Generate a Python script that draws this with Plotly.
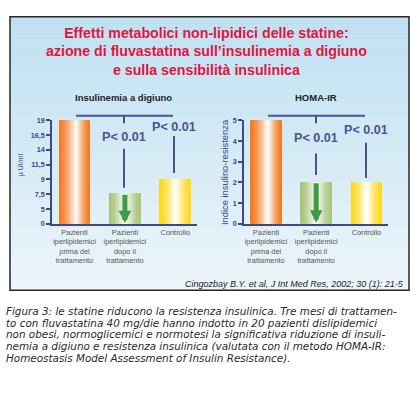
import plotly.graph_objects as go
import numpy as np

# ---------------- data ----------------
categories = [
    "Pazienti<br>iperlipidemici<br>prima del<br>trattamento",
    "Pazienti<br>iperlipidemici<br>dopo il<br>trattamento",
    "Controllo",
]
insulin_values = [19.3, 7.6, 9.1]          # µUI/ml
insulin_ticks = [0, 5, 7.5, 9, 11.5, 14, 16.5, 19]
insulin_tick_labels = ["0", "5", "7,5", "9", "11,5", "14", "16,5", "19"]
homa_values = [5.1, 2.03, 2.03]            # indice HOMA-IR
homa_ticks = [0, 1, 2, 3, 4, 5]
homa_tick_labels = ["0", "1", "2", "3", "4", "5"]
p_labels = ["P< 0.01", "P< 0.01"]

W, H = 415, 395


def px(x):
    return x / W


def py(y):
    return (H - y) / H


def insulin_scale(v):
    """The original axis has evenly spaced ticks with uneven labels."""
    idx = np.arange(len(insulin_ticks))
    v = np.asarray(v, dtype=float)
    out = np.interp(v, insulin_ticks, idx)
    top = v > insulin_ticks[-1]
    out[top] = idx[-1] + (v[top] - insulin_ticks[-1]) / (insulin_ticks[-1] - insulin_ticks[-2])
    return out


def hex2rgb(h):
    h = h.lstrip("#")
    return np.array([int(h[i:i + 2], 16) for i in (0, 2, 4)], dtype=float)


def blend(c, t):
    a = hex2rgb(c)
    b = np.array([255, 255, 255.0])
    r = a * (1 - t) + b * t
    return "rgb(%d,%d,%d)" % tuple(np.round(r))


edge_colors = ["#f47a22", "#a8c47c", "#ffd81c"]
highlight_pos = [0.56, 0.5, 0.5]
BW = 0.63
N = 14

fig = go.Figure()


def add_bars(xs, ys, xa, ya):
    for i in range(N):
        f = 1 - i / N
        t = (i / (N - 1)) ** 1.4 * 0.97
        fig.add_trace(go.Bar(
            x=xs, y=ys,
            width=[f * BW] * len(xs),
            offset=[-BW / 2 + (1 - f) * c * BW for c in highlight_pos],
            marker=dict(color=[blend(c, t) for c in edge_colors], line=dict(width=0)),
            xaxis=xa, yaxis=ya, showlegend=False, hoverinfo="skip",
            cliponaxis=False,
        ))


xs = [0, 1, 2]
add_bars(xs, insulin_scale(insulin_values), "x", "y")
add_bars(xs, homa_values, "x2", "y2")

# ---------------- background panel ----------------
shapes = []
top_px, bot_px = 13, 293
nb = 70
c_top = hex2rgb("#bee0f1")
c_bot = hex2rgb("#ecf5fa")
for k in range(nb):
    y0 = top_px + (bot_px - top_px) * k / nb
    y1 = top_px + (bot_px - top_px) * (k + 1) / nb
    t = k / (nb - 1)
    col = c_top * (1 - t) + c_bot * t
    shapes.append(dict(type="rect", xref="paper", yref="paper",
                       x0=px(10), x1=px(409), y0=py(y1 + 0.5), y1=py(y0),
                       fillcolor="rgb(%d,%d,%d)" % tuple(np.round(col)),
                       line=dict(width=0), layer="below"))
shapes.append(dict(type="rect", xref="paper", yref="paper",
                   x0=px(10), x1=px(409), y0=py(bot_px), y1=py(top_px),
                   line=dict(color="#262626", width=1.5), layer="above"))

LC = "#4a5390"
# brackets (pixel layout positions)
def seg(x0, y0, x1, y1):
    shapes.append(dict(type="line", xref="paper", yref="paper",
                       x0=px(x0), x1=px(x1), y0=py(y0), y1=py(y1),
                       line=dict(color=LC, width=2)))

# left chart
seg(76, 114.3, 173, 114.3)
seg(124, 114.3, 124, 122)
seg(124, 148, 124, 188)
seg(174, 135, 174, 173)
# right chart
seg(268, 114.3, 365, 114.3)
seg(316, 114.3, 316, 122)
seg(316, 153, 316, 175)
seg(366, 142, 366, 178)

annotations = []
ff = "Liberation Sans, Arial, sans-serif"

annotations.append(dict(
    text="Effetti metabolici non-lipidici delle statine:<br>azione di fluvastatina sull\u2019insulinemia a digiuno<br>e sulla sensibilità insulinica",
    x=px(206), y=py(49), xref="paper", yref="paper", showarrow=False,
    font=dict(family=ff, size=14.2, color="#e0163e", weight="bold"),
    xanchor="center", yanchor="middle", align="center"))

annotations.append(dict(text="Insulinemia a digiuno", x=px(123), y=py(96), xref="paper", yref="paper",
                        showarrow=False, font=dict(family=ff, size=9.5, color="#222", weight="bold"),
                        xanchor="center", yanchor="middle"))
annotations.append(dict(text="HOMA-IR", x=px(316), y=py(96), xref="paper", yref="paper",
                        showarrow=False, font=dict(family=ff, size=9.5, color="#222", weight="bold"),
                        xanchor="center", yanchor="middle"))

pfont = dict(family=ff, size=12.6, color=LC, weight="bold")
for (x, y), lab in zip([(124, 136), (174, 126), (316, 137), (366, 129)], p_labels * 2):
    annotations.append(dict(text=lab, x=px(x), y=py(y), xref="paper", yref="paper",
                            showarrow=False, font=pfont, xanchor="center", yanchor="middle"))

annotations.append(dict(text="\u00b5 UI/ml", x=px(21), y=py(165), xref="paper", yref="paper",
                        showarrow=False, textangle=-90,
                        font=dict(family=ff, size=7, color="#3a4580"),
                        xanchor="center", yanchor="middle"))
annotations.append(dict(text="Indice insulino-resistenza", x=px(224), y=py(172), xref="paper", yref="paper",
                        showarrow=False, textangle=-90,
                        font=dict(family=ff, size=9.4, color="#3a4580"),
                        xanchor="center", yanchor="middle"))

# green arrows in the "after" bars
annotations.append(dict(x=1, y=insulin_scale([0.2])[0], ax=1, ay=insulin_scale([insulin_values[1]])[0],
                        xref="x", yref="y", axref="x", ayref="y", text="", showarrow=True,
                        arrowhead=2, arrowsize=0.5, arrowwidth=5, arrowcolor="#3f9a4a", standoff=0))
annotations.append(dict(x=1, y=0.05, ax=1, ay=homa_values[1],
                        xref="x2", yref="y2", axref="x2", ayref="y2", text="", showarrow=True,
                        arrowhead=2, arrowsize=0.5, arrowwidth=5, arrowcolor="#3f9a4a", standoff=0))

annotations.append(dict(text="<i>Cingozbay B.Y. et al, J Int Med Res, 2002; 30 (1): 21-5</i>",
                        x=px(406), y=py(286.5), xref="paper", yref="paper", showarrow=False,
                        font=dict(family=ff, size=9.0, color="#222"), xanchor="right", yanchor="middle"))

caption = [
    "Figura 3: le statine riducono la resistenza insulinica. Tre mesi di trattamen-",
    "to con fluvastatina 40 mg/die hanno indotto in 20 pazienti dislipidemici",
    "non obesi, normoglicemici e normotesi la significativa riduzione di insuli-",
    "nemia a digiuno e resistenza insulinica (valutata con il metodo HOMA-IR:",
    "Homeostasis Model Assessment of Insulin Resistance).",
]
capfont = dict(family="DejaVu Sans, sans-serif", size=10.4, color="#2a2a2a")
for k, line in enumerate(caption):
    annotations.append(dict(text="<i>" + line + "</i>", x=px(4), y=py(314 + 12 * k),
                            xref="paper", yref="paper", showarrow=False,
                            font=capfont, xanchor="left", yanchor="middle"))

AX = "#3d4a86"
tickfont = dict(family=ff, size=7.2, color="#3a4580", weight="bold")
catfont = dict(family=ff, size=7.4, color="#555555")
ydom = [py(225), py(119)]

fig.update_layout(
    width=W, height=H, margin=dict(l=0, r=0, t=0, b=0),
    paper_bgcolor="white", plot_bgcolor="rgba(0,0,0,0)",
    barmode="overlay", bargap=0,
    showlegend=False,
    shapes=shapes, annotations=annotations,
    xaxis=dict(domain=[px(52), px(197)], range=[-0.446, 2.43], anchor="y",
               tickvals=xs, ticktext=categories, ticks="", tickfont=catfont,
               showline=True, linecolor=AX, linewidth=1.5, showgrid=False, zeroline=False,
               fixedrange=True),
    yaxis=dict(domain=ydom, range=[0, 7], anchor="x",
               tickvals=list(range(len(insulin_ticks))), ticktext=insulin_tick_labels,
               ticks="outside", ticklen=4, tickwidth=1.5, tickcolor=AX, tickfont=tickfont,
               showline=True, linecolor=AX, linewidth=1.5, showgrid=False, zeroline=False,
               fixedrange=True),
    xaxis2=dict(domain=[px(244), px(388)], range=[-0.438, 2.43], anchor="y2",
                tickvals=xs, ticktext=categories, ticks="", tickfont=catfont,
                showline=True, linecolor=AX, linewidth=1.5, showgrid=False, zeroline=False,
                fixedrange=True),
    yaxis2=dict(domain=ydom, range=[0, 5], anchor="x2",
                tickvals=homa_ticks, ticktext=homa_tick_labels,
                ticks="outside", ticklen=4, tickwidth=1.5, tickcolor=AX, tickfont=tickfont,
                showline=True, linecolor=AX, linewidth=1.5, showgrid=False, zeroline=False,
                fixedrange=True),
)

fig.write_html("out.html", config={"displayModeBar": False},
               post_script="document.body.style.margin='0px';document.body.style.overflow='hidden';")
